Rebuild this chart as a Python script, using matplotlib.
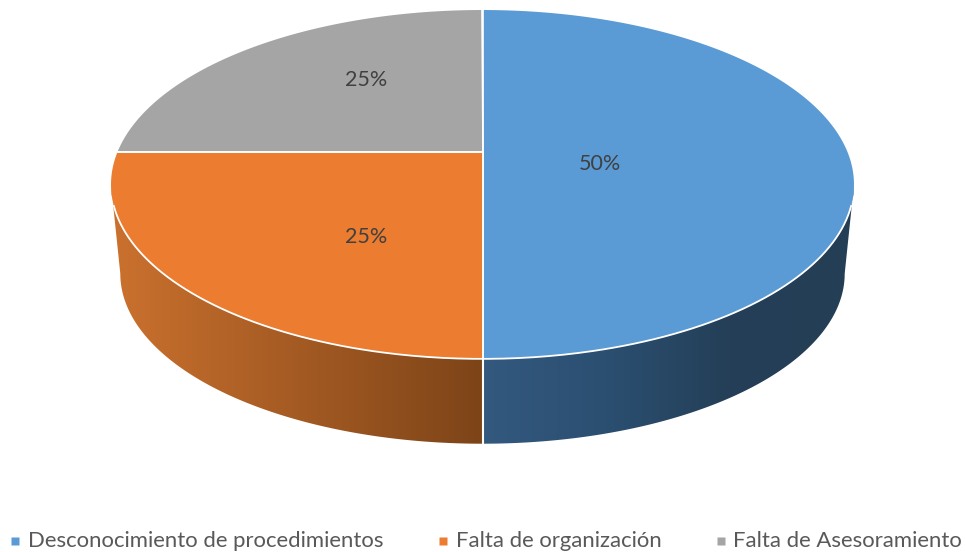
import numpy as np
import matplotlib
matplotlib.use('Agg')
import matplotlib.pyplot as plt
from matplotlib.colors import LinearSegmentedColormap
from matplotlib.patches import Polygon

categories = ['Desconocimiento de procedimientos', 'Falta de organización', 'Falta de Asesoramiento']
values = [50, 25, 25]
pct_labels = ['50%', '25%', '25%']
colors = ['#5B9BD5', '#EB7C30', '#A5A5A5']

plt.rcParams['font.family'] = ['Lato', 'DejaVu Sans']

# pie geometry in pixels, k is the perspective of the tilted disc
cx, cy = 482.5, 152
a, b, k = 365, 168.4, 0.186
depth_scale = 0.975
cy_low = 242


def rim(theta, scale=1.0, y0=cy):
    u, v = np.cos(theta), np.sin(theta)
    w = 1 + k * v
    return cx + scale * a * u / w, y0 - scale * b * v / w


fig = plt.figure(figsize=(9.65, 5.52), dpi=100)
ax = fig.add_axes([0, 0, 1, 1])

# slice angles, clockwise from twelve o'clock
fractions = np.array(values) / sum(values)
edges = np.pi / 2 - 2 * np.pi * np.concatenate([[0], np.cumsum(fractions)])

# side wall, only the part of each slice at the front of the disc shows
front_l, front_r = np.pi + np.arcsin(k), 2 * np.pi - np.arcsin(k)
shades = {
    0: ['#33597F', '#2B4F71', '#243F57', '#233E55'],
    1: ['#CB712E', '#7D4418'],
}
for i, stops in shades.items():
    lo = edges[i + 1] % (2 * np.pi)
    hi = edges[i] % (2 * np.pi)
    if hi <= lo:
        hi += 2 * np.pi
    lo, hi = max(lo, front_l), min(hi, front_r)
    ts = np.linspace(lo, hi, 200)
    xt, yt = rim(ts)
    xb, yb = rim(ts, depth_scale, cy_low)
    xs = np.r_[xt, xb[::-1]]
    ys = np.r_[yt, yb[::-1]]
    cmap = LinearSegmentedColormap.from_list('wall%d' % i, stops)
    grad = np.linspace(0, 1, 256).reshape(1, -1)
    im = ax.imshow(grad, cmap=cmap, aspect='auto', zorder=1,
                   extent=[xs.min(), xs.max(), ys.max(), ys.min()])
    im.set_clip_path(Polygon(np.c_[xs, ys], transform=ax.transData))

ax.set_xlim(0, 965)
ax.set_ylim(552, 0)
ax.axis('off')

# seam between the two front walls
x0, y0 = rim(-np.pi / 2)
x1, y1 = rim(-np.pi / 2, depth_scale, cy_low)
ax.plot([x0, x1], [y0, y1], color='white', lw=1.5, zorder=2)

# top face
for i, col in enumerate(colors):
    ts = np.linspace(edges[i], edges[i + 1], 200)
    xs, ys = rim(ts)
    ax.fill(np.r_[cx, xs], np.r_[cy, ys], facecolor=col, edgecolor='none', zorder=3)
    for e in (edges[i], edges[i + 1]):
        xe, ye = rim(e)
        ax.plot([cx, xe], [cy, ye], color='white', lw=1.2, zorder=4)

# white rim only along the front
ts = np.linspace(front_l + 0.12, front_r - 0.12, 300)
xs, ys = rim(ts)
ax.plot(xs, ys, color='white', lw=1.3, zorder=4)

# percentage labels
for lab, (px, py) in zip(pct_labels, [(600, 164), (366, 237), (366, 80)]):
    ax.text(px, py, lab, ha='center', va='center', fontsize=15.5, color='#404040', zorder=5)

# legend along the bottom
for cat, col, mx, tx in zip(categories, colors, [14.5, 442.5, 720.5], [28, 456, 733]):
    ax.plot(mx, 541, marker='s', ms=5.2, color=col, mec='none', clip_on=False)
    ax.text(tx, 541, cat, ha='left', va='center', fontsize=15.95, color='#595959')

fig.savefig('out.png', dpi=100)
